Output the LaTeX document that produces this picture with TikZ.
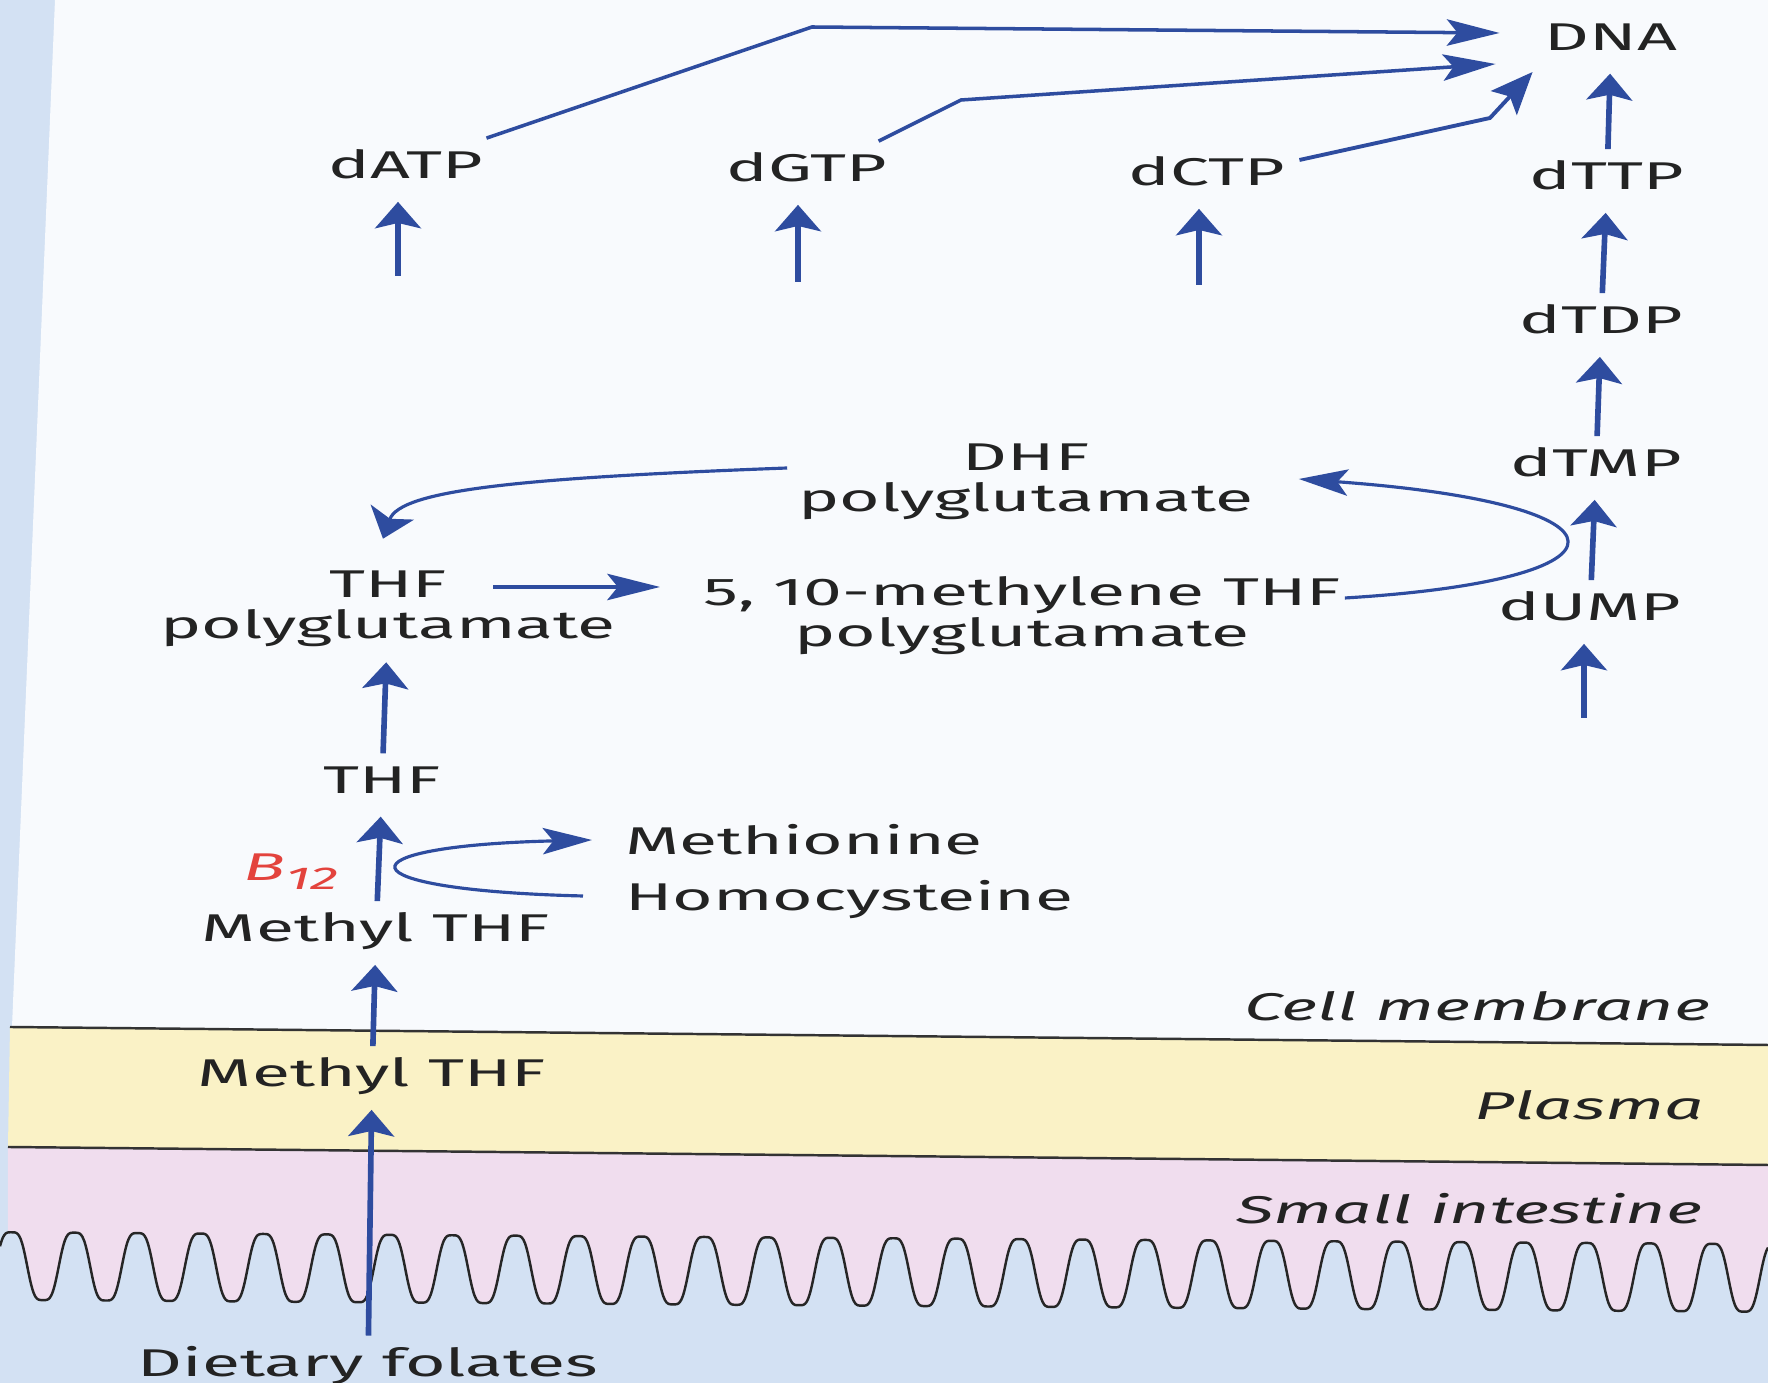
\documentclass[tikz,border=0pt]{standalone}
\usepackage{fontspec}
\setmainfont{Fira Sans}
\usepackage{graphicx}
\usetikzlibrary{arrows.meta,calc}
\definecolor{arrblue}{HTML}{2E4C9F}
\definecolor{txtgray}{HTML}{232323}
\definecolor{bgblue}{HTML}{D3E1F3}
\definecolor{bgwhite}{HTML}{F8FAFD}
\definecolor{plasmayel}{HTML}{FAF2C6}
\definecolor{gutpink}{HTML}{F0DDEE}
\definecolor{bred}{HTML}{E3433D}
\def\xs{1.8}
\newcommand{\lblfont}{\fontsize{11}{11.6}\selectfont}
\newcommand{\wide}[1]{\scalebox{\xs}[1]{\begin{tabular}{@{}c@{}}#1\end{tabular}}}

\begin{document}
\begin{tikzpicture}[x=0.01cm,y=-0.01cm,
    lbl/.style={text=txtgray,font=\lblfont,inner sep=3pt},
    note/.style={text=txtgray,font=\lblfont\itshape,inner sep=0pt,anchor=east},
    varr/.style={draw=arrblue,line width=1.6pt,-{Stealth[length=7.5pt,width=13pt,inset=1.5pt]}},
    harr/.style={draw=arrblue,line width=1pt,-{Stealth[length=15pt,width=7.5pt,inset=3pt]}},
    darr/.style={draw=arrblue,line width=1.1pt,-{Stealth[length=12pt,width=10pt,inset=2.5pt]}},
    cvarr/.style={draw=arrblue,line width=0.9pt,-{Stealth[length=8pt,width=13pt,inset=2pt]}},
    charr/.style={draw=arrblue,line width=0.9pt,-{Stealth[length=14pt,width=7.5pt,inset=3pt]}},
    declare function={vc(\t)=cos(5.714*(\t-358));
      vy(\t)=1266+\t/147.3+16.9*vc(\t)*(3-vc(\t)^2);}]
  \useasboundingbox (0,0) rectangle (1768,1383);
  %%%%% BACKGROUND %%%%%
  \fill[bgblue] (0,0) rectangle (1768,1383);
  \fill[bgwhite] (55,0) -- (1768,0) -- (1768,1045) -- (12,1027) -- cycle;
  \fill[plasmayel] (10,1027) -- (1768,1045) -- (1768,1165) -- (8,1147) -- cycle;
  \fill[gutpink] (8,1147) -- (1768,1165) -- (1768,1330) -- (8,1330) -- cycle;
  \fill[bgblue] plot[domain=0:1768,samples=1200,smooth] (\x,{vy(\x)}) -- (1768,1383) -- (0,1383) -- cycle;
  \draw[line width=0.7pt,black!80] (10,1027) -- (1768,1045);
  \draw[line width=0.7pt,black!80] (8,1147) -- (1768,1165);
  \draw[line width=0.7pt,black!85] plot[domain=0:1768,samples=1200,smooth] (\x,{vy(\x)});

  %%%%% NODES %%%%%
  \node[lbl] (dna) at (1611,42) {\wide{DNA}};
  \node[lbl] (dttp) at (1607,181) {\wide{dTTP}};
  \node[lbl] (dtdp) at (1601,325) {\wide{dTDP}};
  \node[lbl] (dtmp) at (1596,468) {\wide{dTMP}};
  \node[lbl] (dump) at (1590,612) {\wide{dUMP}};
  \node[lbl] (datp) at (406,170) {\wide{dATP}};
  \node[lbl] (dgtp) at (807,173) {\wide{dGTP}};
  \node[lbl] (dctp) at (1207,177) {\wide{dCTP}};
  \node[lbl] (dhf) at (1026,483) {\wide{DHF\\polyglutamate}};
  \node[lbl] (thfpoly) at (388,610) {\wide{THF\\polyglutamate}};
  \node[lbl] (methy) at (1022,618) {\wide{5, 10-methylene THF\\polyglutamate}};
  \node[lbl] (thf) at (382,785) {\wide{THF}};
  \node[lbl,anchor=west] (met) at (614,846) {\wide{Methionine}};
  \node[lbl,anchor=west] (hcy) at (614,902) {\wide{Homocysteine}};
  \node[lbl,text=bred] (btwelve) at (291,872) {\scalebox{\xs}[1]{\textit{B}\raisebox{-2.5pt}{\fontsize{9}{9}\selectfont\textit{12}}}};
  \node[lbl] (mthf) at (376,933) {\wide{Methyl THF}};
  \node[lbl] (mthfpl) at (372,1078) {\wide{Methyl THF}};
  \node[lbl] (diet) at (368,1368) {\wide{Dietary folates}};
  \node[note] (cellm) at (1711,1006) {\scalebox{\xs}[1]{Cell membrane}};
  \node[note] (plasma) at (1705,1105) {\scalebox{\xs}[1]{Plasma}};
  \node[note] (gut) at (1703,1209) {\scalebox{\xs}[1]{Small intestine}};

  %%%%% ARROWS %%%%%
  \coordinate (datpin) at (398,276);
  \coordinate (dgtpin) at (798,282);
  \coordinate (dctpin) at (1199,285);
  \coordinate (dumpin) at (1584,718);
  \draw[varr] (datpin) -- (datpin |- datp.south);
  \draw[varr] (dgtpin) -- (dgtpin |- dgtp.south);
  \draw[varr] (dctpin) -- (dctpin |- dctp.south);
  \draw[varr] (dumpin) -- (dumpin |- dump.south);
  \draw[varr] (dump) -- (dtmp);
  \draw[varr] (dtmp) -- (dtdp);
  \draw[varr] (dtdp) -- (dttp);
  \draw[varr] (dttp) -- (dna);

  % nucleotides into DNA
  \coordinate (bendA) at (812,27);
  \coordinate (bendG) at (961,100);
  \coordinate (bendC) at (1490,118);
  \draw[harr] ($(datp.north east)+(-8,0)$) -- (bendA) -- ($(dna.west)+(-34,-9)$);
  \draw[harr] ($(dgtp.north east)+(-20,0)$) -- (bendG) -- ($(dna.west)+(-38,22)$);
  \draw[darr] ($(dctp.east)+(3,-17)$) -- (bendC) -- ($(dna.west)+(-1,30)$);

  % folate cycle
  \draw[cvarr] ($(dhf.west)+(0,-15)$) .. controls (520,478) and (400,490) .. ($(thfpoly.north)+(-5,-19)$);
  \draw[harr] ($(thfpoly.center)+(105,-23)$) -- ($(methy.center)+(-362,-31)$);
  \draw[charr] ($(methy.east)+(-7,-20)$) .. controls (1644,580) and (1644,504) .. ($(dhf.east)+(34,-4)$);
  \draw[varr] (thf) -- (thfpoly);
  \draw[varr] (mthf) -- (thf);
  \draw[charr] ($(hcy.west)+(-31,-6)$) .. controls (337,890) and (337,846) .. ($(met.west)+(-22,-6)$);
  \draw[varr] (mthfpl) -- (mthf);
  \draw[varr] (diet) -- (mthfpl);
\end{tikzpicture}
\end{document}
